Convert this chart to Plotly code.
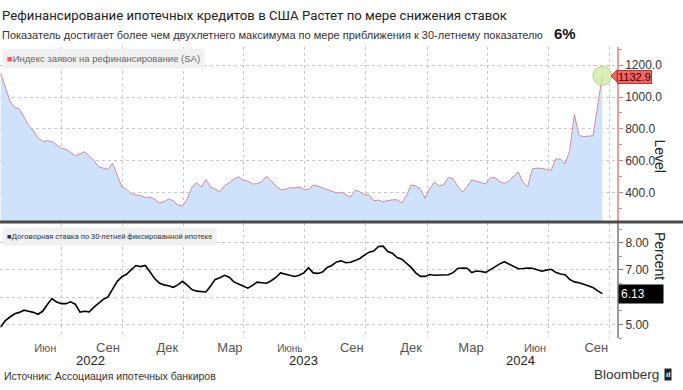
import plotly.graph_objects as go
import pandas as pd

# ---------------- data ----------------
dates = pd.date_range("2022-04-01", periods=130, freq="7D")

refi_index = [
    1150, 1060, 975, 935, 925, 875, 822, 790, 745, 722,
    726, 720, 700, 679, 672, 652, 632, 643, 657, 630,
    602, 563, 554, 545, 585, 505, 435, 420, 393, 386,
    382, 370, 371, 360, 333, 343, 360, 350, 322, 315,
    360, 432, 464, 435, 483, 435, 423, 405, 444, 462,
    485, 500, 479, 473, 454, 457, 468, 503, 470, 442,
    420, 420, 431, 430, 435, 420, 421, 448, 441, 431,
    419, 410, 398, 403, 385, 372, 415, 406, 386, 386,
    349, 353, 344, 350, 355, 355, 335, 382, 448, 442,
    422, 365, 425, 466, 443, 450, 496, 487, 440, 404,
    438, 480, 470, 465, 454, 495, 493, 470, 458, 474,
    500, 530, 464, 438, 550, 554, 552, 544, 540, 611,
    611, 580, 664, 891, 758, 752, 754, 757, 945, 1132.9,
]

rate_30y = [
    4.90, 5.14, 5.27, 5.39, 5.44, 5.52, 5.48, 5.44, 5.37, 5.48,
    5.73, 5.95, 5.82, 5.76, 5.76, 5.83, 5.74, 5.45, 5.48, 5.46,
    5.63, 5.77, 5.92, 6.01, 6.28, 6.58, 6.75, 6.84, 7.01, 7.16,
    7.12, 7.16, 6.93, 6.68, 6.52, 6.45, 6.42, 6.36, 6.45, 6.58,
    6.44, 6.28, 6.22, 6.20, 6.19, 6.41, 6.65, 6.71, 6.80, 6.73,
    6.56, 6.48, 6.41, 6.33, 6.43, 6.55, 6.53, 6.51, 6.60, 6.72,
    6.89, 6.84, 6.79, 6.76, 6.80, 6.89, 7.08, 6.89, 6.87, 6.92,
    7.09, 7.16, 7.29, 7.33, 7.26, 7.28, 7.34, 7.42, 7.54, 7.65,
    7.69, 7.86, 7.87, 7.67, 7.61, 7.45, 7.39, 7.23, 7.09, 6.89,
    6.76, 6.76, 6.83, 6.80, 6.80, 6.80, 6.82, 6.90, 7.05, 7.07,
    7.06, 6.90, 6.96, 6.94, 6.91, 7.01, 7.12, 7.22, 7.30, 7.21,
    7.11, 7.04, 7.05, 7.07, 7.06, 7.00, 6.95, 6.99, 7.02, 6.91,
    6.85, 6.82, 6.65, 6.56, 6.53, 6.47, 6.42, 6.35, 6.23, 6.13,
]

month_tick_dates = ["2022-06-07", "2022-09-09", "2022-12-07", "2023-03-11", "2023-06-09",
                    "2023-09-10", "2023-12-08", "2024-03-07", "2024-06-11", "2024-09-11"]
month_tick_text = ["<span style='font-size:11px'>Июн</span>", "Сен", "Дек", "Мар",
                   "<span style='font-size:10px'>Июнь</span>", "Сен", "Дек", "Мар",
                   "<span style='font-size:11px'>Июн</span>", "Сен"]
year_labels = ["2022", "2023", "2024"]
year_label_dates = ["2022-08-14", "2023-06-29", "2024-05-20"]
quarter_grid_dates = ["2022-07-01", "2022-10-01", "2023-01-01", "2023-04-01", "2023-07-01",
                      "2023-10-01", "2024-01-01", "2024-04-01", "2024-07-01", "2024-10-01"]
refi_ticks = [400, 600, 800, 1000, 1200]
refi_tick_text = ["400.0", "600.0", "800.0", "1000.0", "1200.0"]
rate_ticks = [5, 6, 7, 8]
rate_tick_text = ["5.00", "", "7.00", "8.00"]

title = "Рефинансирование ипотечных кредитов в США Растет по мере снижения ставок"
subtitle = "Показатель достигает более чем двухлетнего максимума по мере приближения к 30-летнему показателю"
refi_name = "Индекс заявок на рефинансирование (SA)"
rate_name = "Договорная ставка по 30-летней фиксированной ипотеке"
source = "Источник: Ассоциация ипотечных банкиров"

# ---------------- layout geometry ----------------
W, H = 683, 390
ML, MR, MT, MB = 0, 66, 47, 52
PW = W - ML - MR
PH = H - MT - MB


def py(page_y):
    return (H - MB - page_y) / PH


def px(page_x):
    return (page_x - ML) / PW


SANS = "Liberation Sans, Arial, sans-serif"
ROBOTO = "Roboto, Liberation Sans, sans-serif"
GRID = "#c9c9c9"

fig = go.Figure()

fig.add_trace(go.Scatter(
    x=dates, y=refi_index, mode="lines", name=refi_name,
    line=dict(color="#d78a98", width=1), fill="tozeroy", fillcolor="#cfe2fb",
    xaxis="x", yaxis="y", hoverinfo="skip", showlegend=False,
))
fig.add_trace(go.Scatter(
    x=[dates[-1]], y=[refi_index[-1]], mode="markers",
    marker=dict(size=19, color="rgba(205,232,160,0.75)", line=dict(color="rgba(175,215,120,0.9)", width=1)),
    xaxis="x", yaxis="y", cliponaxis=False, hoverinfo="skip", showlegend=False,
))
fig.add_trace(go.Scatter(
    x=dates, y=rate_30y, mode="lines", name=rate_name,
    line=dict(color="#000000", width=1.6),
    xaxis="x2", yaxis="y2", hoverinfo="skip", showlegend=False,
))

x_range = ["2022-03-31", "2024-10-12"]
minor_grid = dict(tickmode="array", tickvals=quarter_grid_dates, showgrid=True,
                  gridcolor=GRID, griddash="dot", gridwidth=1, ticks="")

fig.update_layout(
    width=W, height=H,
    margin=dict(l=ML, r=MR, t=MT, b=MB),
    paper_bgcolor="white", plot_bgcolor="white",
    showlegend=False,
    xaxis=dict(domain=[0, 1], anchor="y", range=x_range, type="date",
               tickmode="array", tickvals=month_tick_dates, ticktext=month_tick_text,
               showticklabels=False, showgrid=False, zeroline=False, showline=False,
               minor=minor_grid),
    xaxis2=dict(domain=[0, 1], anchor="y2", range=x_range, type="date", matches="x",
                tickmode="array", tickvals=month_tick_dates, ticktext=month_tick_text,
                tickfont=dict(family=SANS, size=13, color="#555"),
                showgrid=False, zeroline=False, showline=False, ticks="",
                minor=minor_grid),
    yaxis=dict(domain=[py(221), 1], anchor="x", side="right", range=[222, 1314],
               tickmode="array", tickvals=refi_ticks, ticktext=refi_tick_text,
               tickfont=dict(family=SANS, size=12, color="#333"),
               showgrid=True, gridcolor=GRID, griddash="dot", zeroline=False,
               showline=True, linecolor="#ef9d9d", linewidth=1.5,
               ticks="outside", ticklen=4, tickcolor="#e57b7b",
               minor=dict(ticks="outside", ticklen=3, tickcolor="#e57b7b", dtick=100, tick0=0, showgrid=False)),
    yaxis2=dict(domain=[0, py(223)], anchor="x2", side="right", range=[4.5, 8.72],
                tickmode="array", tickvals=rate_ticks, ticktext=rate_tick_text,
                tickfont=dict(family=SANS, size=12, color="#333"),
                showgrid=True, gridcolor=GRID, griddash="dot", zeroline=False,
                showline=True, linecolor="#9a9a9a", linewidth=2,
                ticks="outside", ticklen=4, tickcolor="#777",
                minor=dict(ticks="outside", ticklen=3, tickcolor="#999", dtick=0.5, tick0=0, showgrid=False)),
)

# separator between the two panels
fig.add_shape(type="line", xref="paper", yref="paper", x0=0, x1=px(W), y0=py(222), y1=py(222),
              line=dict(color="#4a4a4a", width=3), layer="above")

ann = []
# title / subtitle
ann.append(dict(text=title, xref="paper", yref="paper", x=px(0), y=py(16), xanchor="left", yanchor="middle",
                showarrow=False, font=dict(family=ROBOTO, size=13.2, color="#222")))
ann.append(dict(text=subtitle, xref="paper", yref="paper", x=px(0), y=py(35), xanchor="left", yanchor="middle",
                showarrow=False, font=dict(family=SANS, size=11, color="#333")))
ann.append(dict(text="<b>6%</b>", xref="paper", yref="paper", x=px(552), y=py(34), xanchor="left", yanchor="middle",
                showarrow=False, font=dict(family=SANS, size=15, color="#111")))
# in-panel legends
ann.append(dict(text="<span style='color:#ee5c5c'>■</span>" + refi_name, xref="paper", yref="paper",
                x=px(2), y=py(59), xanchor="left", yanchor="middle", showarrow=False,
                font=dict(family=SANS, size=9.5, color="#666"), bgcolor="#f1f1f1", borderpad=4))
ann.append(dict(text="■" + rate_name, xref="paper", yref="paper",
                x=px(2), y=py(236), xanchor="left", yanchor="middle", showarrow=False,
                font=dict(family=ROBOTO, size=7.4, color="#333"), bgcolor="#f1f1f1", borderpad=4))
# axis titles
ann.append(dict(text="Level", xref="paper", yref="paper", x=px(670), y=py(137), textangle=90,
                showarrow=False, font=dict(family=SANS, size=14, color="#222")))
ann.append(dict(text="Percent", xref="paper", yref="paper", x=px(670), y=py(282), textangle=90,
                showarrow=False, font=dict(family=SANS, size=14, color="#222")))
# last value flags
ann.append(dict(text=f"{refi_index[-1]:.1f}", xref="paper", yref="y", x=px(617), y=refi_index[-1],
                xanchor="left", yanchor="middle", showarrow=False, yshift=-1.5,
                font=dict(family=SANS, size=11, color="#3a0000"), bgcolor="#f06464",
                bordercolor="#b33b3b", borderwidth=1, borderpad=0))
ann.append(dict(text=f"{rate_30y[-1]:.2f}", xref="paper", yref="y2", x=px(618), y=rate_30y[-1],
                xanchor="left", yanchor="middle", showarrow=False, width=40, align="left",
                font=dict(family=SANS, size=12, color="white"), bgcolor="#000", borderpad=2))
# years
for lab, d in zip(year_labels, year_label_dates):
    ann.append(dict(text=lab, xref="x2", yref="paper", x=d, y=py(360), xanchor="center", yanchor="middle",
                    showarrow=False, font=dict(family=SANS, size=13, color="#222")))
# source + brand
ann.append(dict(text=source, xref="paper", yref="paper", x=px(2), y=py(376), xanchor="left", yanchor="middle",
                showarrow=False, font=dict(family=SANS, size=10.5, color="#333")))
ann.append(dict(text="Bloomberg", xref="paper", yref="paper", x=px(661), y=py(374), xanchor="right", yanchor="middle",
                showarrow=False, font=dict(family=SANS, size=13.5, color="#333")))
ann.append(dict(text="<b>ıl</b>", xref="paper", yref="paper", x=px(664), y=py(374), xanchor="left", yanchor="middle",
                showarrow=False, font=dict(family=SANS, size=8, color="white"), bgcolor="#222", borderpad=1))
fig.update_layout(annotations=ann)

# pointer of the red value flag
fy = refi_index[-1]
dy = 12 * (1314 - 222) / (PH * (1 - py(221)))
fig.add_shape(type="path", xref="paper", yref="y",
              path=f"M {px(611)},{fy} L {px(617)},{fy + dy/2} L {px(617)},{fy - dy/2} Z",
              yanchor=fy, ysizemode="scaled",
              fillcolor="#f06464", line=dict(color="#b33b3b", width=1), layer="above")

fig.write_html("out.html", config={"displayModeBar": False},
               post_script="document.body.style.margin='0';")
